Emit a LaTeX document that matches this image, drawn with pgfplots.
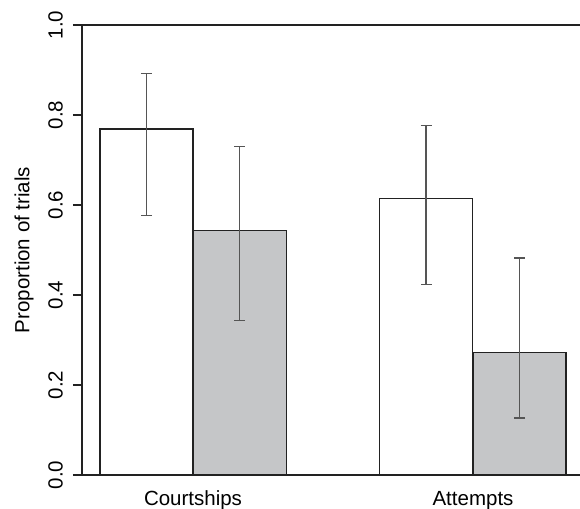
\documentclass[border=0pt]{standalone}
\usepackage{fontspec}
\setmainfont{Liberation Sans}
\usepackage{pgfplots}
\pgfplotsset{compat=1.18}
\definecolor{barGray}{HTML}{C5C6C8}
\definecolor{edge}{HTML}{222222}
\definecolor{errc}{HTML}{555555}
\newcommand{\lblfont}{\fontsize{20.5bp}{24bp}\selectfont}
\begin{document}
\begin{tikzpicture}[font=\lblfont]
\begin{axis}[
  at={(0,0)}, anchor=south west,
  scale only axis, width=498bp, height=450bp,
  xmin=82, xmax=580, ymin=0, ymax=1,
  axis y line*=left, axis x line*=bottom,
  axis line style={-, edge, line width=1.1bp},
  xtick={193,473}, xticklabels={Courtships,Attempts},
  x tick style={draw=none},
  tick label style={font=\lblfont},
  label style={font=\lblfont},
  xticklabel style={anchor=base, yshift=-21.5bp},
  ytick={0,0.2,0.4,0.6,0.8,1.0},
  yticklabels={0.0,0.2,0.4,0.6,0.8,1.0},
  y tick style={edge, line width=1.1bp},
  tick align=outside, major tick length=9bp,
  yticklabel style={xshift=-17.5bp, rotate=90, anchor=center},
  /pgf/number format/assume math mode=true,
  ylabel={Proportion of trials},
  every axis y label/.style={at={([xshift=-52.5bp]rel axis cs:0,0.5)}, rotate=90, anchor=base},
  clip=false,
]
\addplot[ybar, bar width=93, bar shift=0pt, draw=edge, fill=white, line width=1.2bp,
  error bars/.cd, y dir=both, y explicit,
  error bar style={errc, line width=1.3bp},
  error mark options={rotate=90, errc, line width=1.3bp, mark size=5.5bp}]
  coordinates {(146.5,0.769) += (0,0.123) -= (0,0.193)
               (426,0.614) += (0,0.162) -= (0,0.190)};
\addplot[ybar, bar width=93, bar shift=0pt, draw=edge, fill=barGray, line width=1.2bp,
  error bars/.cd, y dir=both, y explicit,
  error bar style={errc, line width=1.3bp},
  error mark options={rotate=90, errc, line width=1.3bp, mark size=5.5bp}]
  coordinates {(239.7,0.544) += (0,0.186) -= (0,0.200)
               (519.5,0.272) += (0,0.210) -= (0,0.145)};
\draw[edge, line width=1.1bp] (rel axis cs:0,1) -- (rel axis cs:1,1);
\end{axis}
\pgfresetboundingbox
\useasboundingbox (-82bp,-34bp) rectangle (498bp,475bp);
\end{tikzpicture}
\end{document}
